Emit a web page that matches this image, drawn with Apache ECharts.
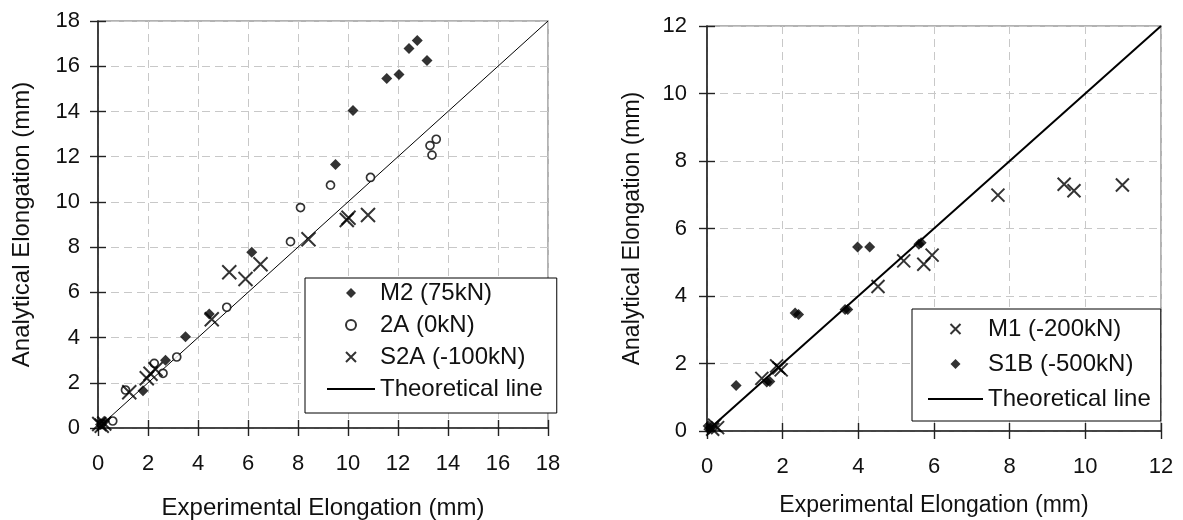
<!DOCTYPE html>
<html>
<head>
<meta charset="utf-8">
<title>Analytical vs experimental elongation</title>
<script src="https://cdn.jsdelivr.net/npm/echarts@6/dist/echarts.min.js"></script>
<style>
  html, body { margin: 0; padding: 0; background: #fff; }
  .chart { position: absolute; top: 0; height: 520px; }
  #left { left: 0; width: 590px; }
  #right { left: 590px; width: 593px; }
</style>
</head>
<body>
<div id="left" class="chart"></div>
<div id="right" class="chart"></div>
<script>
  // tick values (mm)
  var leftTicks = [0, 2, 4, 6, 8, 10, 12, 14, 16, 18];
  var rightTicks = [0, 2, 4, 6, 8, 10, 12];

  // left chart, points are [experimental, analytical] in mm
  var m2Data = [
    [12.77, 17.14], [12.44, 16.78], [13.16, 16.25], [12.04, 15.63], [11.55, 15.46],
    [10.2, 14.04], [9.5, 11.65], [6.15, 7.77], [4.45, 5.04], [3.5, 4.04],
    [2.7, 3.0], [1.8, 1.65], [0.25, 0.3], [0.1, 0.15]
  ];
  var a2Data = [
    [13.53, 12.77], [13.28, 12.49], [13.36, 12.07], [10.9, 11.08], [9.3, 10.74],
    [8.1, 9.75], [7.7, 8.24], [5.15, 5.34], [3.15, 3.14], [2.25, 2.86],
    [2.6, 2.42], [1.1, 1.68], [0.59, 0.31], [0.15, 0.2]
  ];
  var s2aData = [
    [10.8, 9.42], [9.95, 9.2], [10.02, 9.3], [8.42, 8.35], [6.5, 7.24],
    [5.25, 6.89], [5.9, 6.59], [4.55, 4.81], [2.3, 2.6], [2.1, 2.4],
    [1.95, 2.2], [1.25, 1.58], [0.05, 0.18], [0.15, 0.1], [0.25, 0.2]
  ];
  var leftTheory = [[0, 0], [18, 18]];

  // right chart
  var m1Data = [
    [10.98, 7.29], [9.44, 7.31], [9.7, 7.12], [7.69, 6.99], [5.95, 5.21],
    [5.73, 4.94], [5.2, 5.04], [4.52, 4.28], [1.45, 1.56], [1.84, 1.93],
    [1.9, 1.87], [1.96, 1.81], [0.2, 0.17], [0.28, 0.1], [0.15, 0.05]
  ];
  var s1bData = [
    [3.98, 5.45], [4.3, 5.45], [5.6, 5.53], [5.66, 5.58], [3.65, 3.6],
    [3.72, 3.6], [2.33, 3.5], [2.42, 3.45], [0.77, 1.35], [1.58, 1.45],
    [1.66, 1.47], [0.03, 0.15], [0.1, 0.1], [0.05, 0.05]
  ];
  var rightTheory = [[0, 0], [12, 12]];

  var FONT = '"Liberation Sans", Arial, sans-serif';
  var CROSS = 'path://M0,0L10,10M10,0L0,10';
  var DIAMOND = 'path://M5,0L10,5L5,10L0,5Z';

  function axis(dir, ticks, o) {
    return {
      type: 'value',
      position: dir === 'x' ? 'bottom' : 'left',
      min: ticks[0],
      max: ticks[ticks.length - 1],
      interval: ticks[1] - ticks[0],
      axisLine: { show: true, lineStyle: { color: '#222', width: 1.6 } },
      axisTick: { show: true, inside: false, length: 8, lineStyle: { color: '#222', width: 1.4 } },
      axisLabel: { show: true, margin: o.margin, color: '#111', fontSize: 22, fontFamily: FONT },
      splitLine: { show: true, lineStyle: { color: '#c8c8c8', width: 1, type: [8, 5] } },
      name: o.name,
      nameLocation: 'middle',
      nameGap: o.nameGap,
      nameTextStyle: { color: '#111', fontSize: o.nameSize, fontFamily: FONT }
    };
  }

  // second copy of an axis, only to draw the inner half of the ticks
  function innerTicks(dir, ticks) {
    return {
      type: 'value',
      position: dir === 'x' ? 'bottom' : 'left',
      min: ticks[0],
      max: ticks[ticks.length - 1],
      interval: ticks[1] - ticks[0],
      axisLine: { show: false },
      axisTick: { show: true, inside: true, length: 8, lineStyle: { color: '#222', width: 1.4 } },
      axisLabel: { show: false },
      splitLine: { show: false }
    };
  }

  function diamonds(name, data) {
    return { name: name, type: 'scatter', data: data, symbol: DIAMOND, symbolSize: 11,
      itemStyle: { color: '#000' }, z: 4 };
  }
  function circles(name, data) {
    return { name: name, type: 'scatter', data: data, symbol: 'circle', symbolSize: 8,
      itemStyle: { color: '#fff', borderColor: '#000', borderWidth: 1.7 }, z: 3 };
  }
  function crosses(name, data, size) {
    return { name: name, type: 'scatter', data: data, symbol: CROSS, symbolSize: size,
      itemStyle: { color: 'none', borderColor: '#000', borderWidth: 2 }, z: 5 };
  }
  function theory(data, width) {
    return { name: 'Theoretical line', type: 'line', data: data, symbol: 'none', silent: true,
      itemStyle: { color: '#000' }, lineStyle: { color: '#000', width: width }, z: 2 };
  }

  function build(el, c) {
    var chart = echarts.init(document.getElementById(el));
    var names = c.legend.names.map(function (n) {
      if (n === 'Theoretical line') return { name: n, itemStyle: { opacity: 0 } };
      return { name: n };
    });
    chart.setOption({
      animation: false,
      grid: {
        left: c.grid[0], top: c.grid[1], width: c.grid[2], height: c.grid[3],
        outerBoundsMode: 'none', containLabel: false,
        show: true, borderColor: '#999', borderWidth: 1.5, backgroundColor: 'transparent'
      },
      legend: {
        orient: 'vertical',
        left: c.legend.left,
        top: c.legend.top,
        data: names,
        itemWidth: c.legend.itemWidth,
        itemHeight: 10,
        itemGap: c.legend.gap,
        padding: c.legend.padding,
        backgroundColor: '#fff',
        borderColor: '#000',
        borderWidth: 1,
        selectedMode: false,
        textStyle: { color: '#111', fontSize: 24, fontFamily: FONT }
      },
      xAxis: [
        axis('x', c.ticks, { name: 'Experimental Elongation (mm)', nameGap: c.xGap, nameSize: c.nameSize, margin: 25 }),
        innerTicks('x', c.ticks)
      ],
      yAxis: [
        axis('y', c.ticks, { name: 'Analytical Elongation (mm)', nameGap: c.yGap, nameSize: c.nameSize, margin: c.yMargin }),
        innerTicks('y', c.ticks)
      ],
      series: c.series
    });
    return chart;
  }

  build('left', {
    ticks: leftTicks,
    grid: [98, 21, 450, 407],
    xGap: 68, yGap: 64, yMargin: 18, nameSize: 24,
    legend: {
      left: 305, top: 278, itemWidth: 48, gap: 8, padding: [3, 14, 12, 21],
      names: ['M2 (75kN)', '2A (0kN)', 'S2A (-100kN)', 'Theoretical line']
    },
    series: [
      theory(leftTheory, 1),
      diamonds('M2 (75kN)', m2Data),
      circles('2A (0kN)', a2Data),
      crosses('S2A (-100kN)', s2aData, 14)
    ]
  });

  build('right', {
    ticks: rightTicks,
    grid: [117, 26, 454, 405],
    xGap: 63, yGap: 63, yMargin: 20, nameSize: 23,
    legend: {
      left: 322, top: 309, itemWidth: 55, gap: 11, padding: [8, 10, 10, 15],
      names: ['M1 (-200kN)', 'S1B (-500kN)', 'Theoretical line']
    },
    series: [
      theory(rightTheory, 2),
      crosses('M1 (-200kN)', m1Data, 13),
      diamonds('S1B (-500kN)', s1bData)
    ]
  });
</script>
</body>
</html>
